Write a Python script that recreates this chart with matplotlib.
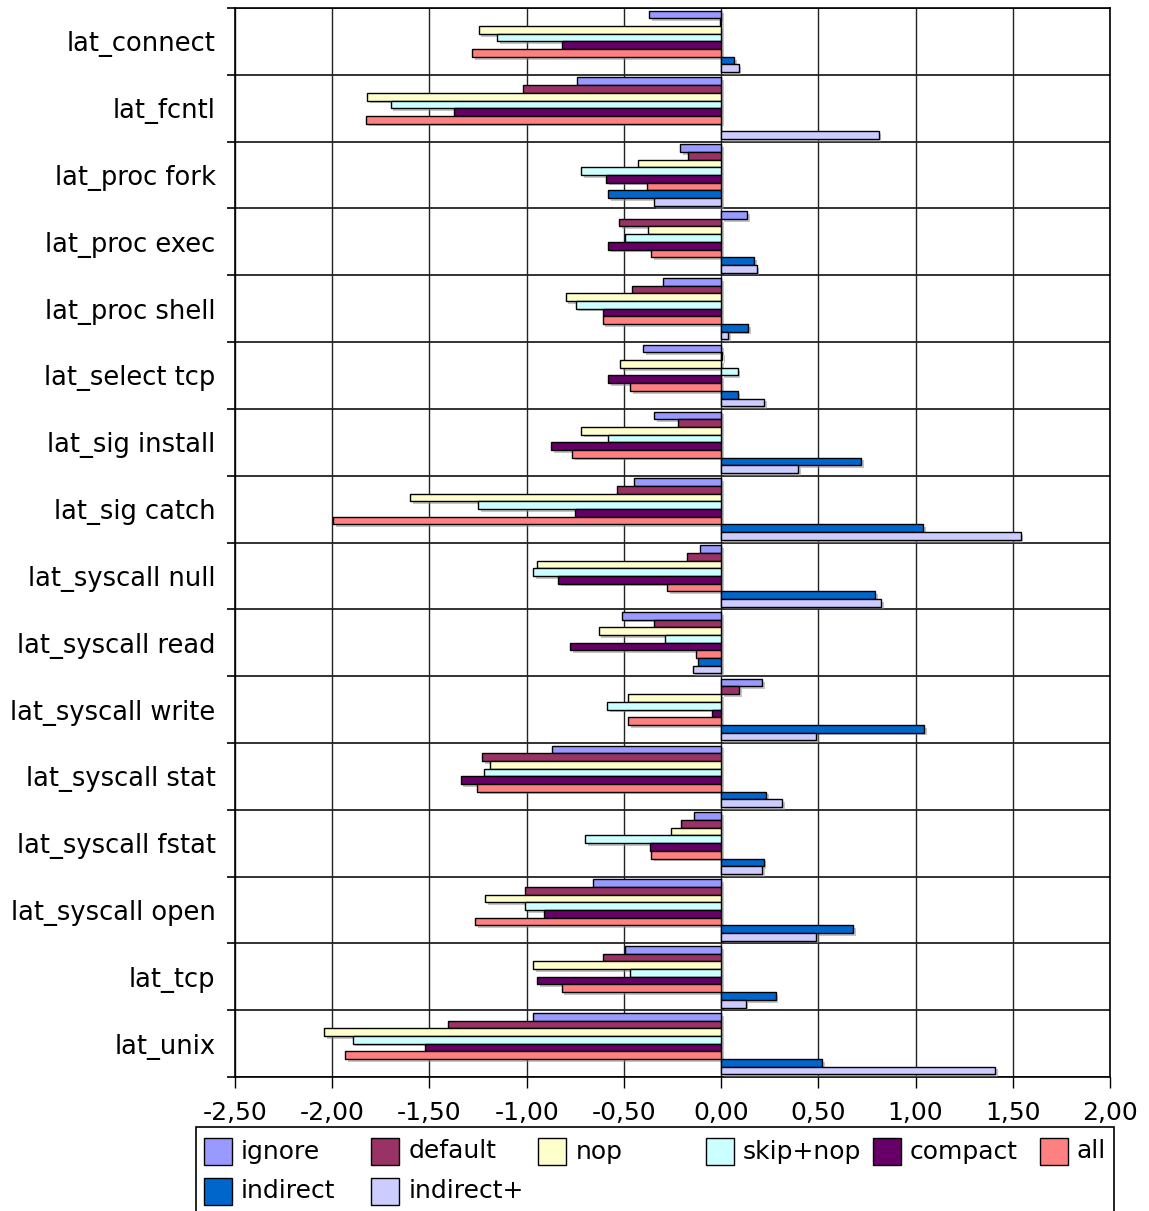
import matplotlib
matplotlib.use("Agg")
import matplotlib.pyplot as plt
import numpy as np
from matplotlib import patheffects as pe
from matplotlib.ticker import FixedLocator, FuncFormatter
from matplotlib.patches import Rectangle

categories = ["lat_connect", "lat_fcntl", "lat_proc fork", "lat_proc exec",
              "lat_proc shell", "lat_select tcp", "lat_sig install", "lat_sig catch",
              "lat_syscall null", "lat_syscall read", "lat_syscall write",
              "lat_syscall stat", "lat_syscall fstat", "lat_syscall open",
              "lat_tcp", "lat_unix"]

series_names = ["ignore", "default", "nop", "skip+nop", "compact", "all",
                "indirect", "indirect+"]

ignore = [-0.37, -0.74, -0.21, 0.135, -0.30, -0.40, -0.345, -0.447,
          -0.11, -0.51, 0.21, -0.87, -0.14, -0.66, -0.495, -0.965]
default = [-0.006, -1.02, -0.17, -0.525, -0.46, 0.006, -0.22, -0.535,
           -0.175, -0.345, 0.094, -1.23, -0.205, -1.01, -0.61, -1.405]
nop = [-1.247, -1.82, -0.43, -0.375, -0.80, -0.52, -0.72, -1.60,
       -0.947, -0.63, -0.477, -1.19, -0.26, -1.215, -0.965, -2.04]
skip_nop = [-1.153, -1.70, -0.72, -0.495, -0.745, 0.085, -0.58, -1.25,
            -0.968, -0.29, -0.585, -1.218, -0.70, -1.01, -0.468, -1.895]
compact = [-0.82, -1.375, -0.59, -0.58, -0.61, -0.58, -0.875, -0.753,
           -0.84, -0.775, -0.047, -1.34, -0.365, -0.91, -0.945, -1.525]
all_ = [-1.28, -1.826, -0.38, -0.36, -0.61, -0.47, -0.765, -1.995,
        -0.276, -0.13, -0.477, -1.253, -0.36, -1.265, -0.82, -1.935]
indirect = [0.065, 0.0, -0.58, 0.17, 0.14, 0.085, 0.72, 1.04,
            0.79, -0.12, 1.045, 0.232, 0.218, 0.68, 0.28, 0.518]
indirect_plus = [0.09, 0.81, -0.347, 0.182, 0.035, 0.22, 0.397, 1.54,
                 0.823, -0.147, 0.49, 0.315, 0.21, 0.49, 0.126, 1.41]

series_values = [ignore, default, nop, skip_nop, compact, all_, indirect, indirect_plus]
colors = ["#9999FF", "#993366", "#FFFFCC", "#CCFFFF", "#660066", "#FF8080",
          "#0066CC", "#CCCCFF"]

x_ticks = [-2.5, -2.0, -1.5, -1.0, -0.5, 0.0, 0.5, 1.0, 1.5, 2.0]

W, H = 1149, 1211
fig = plt.figure(figsize=(W / 100, H / 100), dpi=100)
ax = fig.add_axes([235 / W, 1 - 1077 / H, (1110 - 235) / W, (1077 - 8) / H])

n_cat = len(categories)
n_ser = len(series_values)
bar_h = 0.115
y = np.arange(n_cat)
shadow = [pe.SimplePatchShadow(offset=(2, -2), shadow_rgbFace="#8a8a8a", alpha=0.5),
          pe.Normal()]

for j, (vals, col, name) in enumerate(zip(series_values, colors, series_names)):
    bars = ax.barh(y + (j - (n_ser - 1) / 2) * bar_h, vals, height=bar_h,
                   color=col, edgecolor="black", linewidth=1.0, label=name, zorder=3)
    for b in bars:
        b.set_path_effects(shadow)

ax.set_xlim(-2.5, 2.0)
ax.set_ylim(n_cat - 0.5, -0.5)

ax.xaxis.set_major_locator(FixedLocator(x_ticks))
ax.xaxis.set_major_formatter(FuncFormatter(lambda v, p: f"{v:.2f}".replace(".", ",")))
ax.set_yticks(y)
ax.set_yticklabels(categories)
ax.yaxis.set_minor_locator(FixedLocator(np.arange(-0.5, n_cat, 1.0)))

ax.tick_params(axis="y", which="major", length=0, pad=14, labelsize=18.5)
ax.tick_params(axis="y", which="minor", length=6, width=1.2, direction="out")
ax.tick_params(axis="x", which="major", length=8, width=1, direction="out",
               pad=9, labelsize=18)

ax.grid(axis="x", which="major", color="#222222", linewidth=1.0, zorder=0)
ax.grid(axis="y", which="minor", color="#222222", linewidth=1.3, zorder=0)
ax.set_axisbelow(True)
for s in ax.spines.values():
    s.set_linewidth(1.2)
    s.set_color("black")

# legend drawn as a fixed-width grid, like the original
def fx(px):
    return px / W

def fy(py):
    return 1 - py / H

fig.patches.append(Rectangle((fx(196), fy(1215)), fx(1114) - fx(196), fy(1127) - fy(1215),
                             transform=fig.transFigure, facecolor="white",
                             edgecolor="black", linewidth=1.2))
col_w = 167.2
row_y = [1151.5, 1191]
for k, (name, col) in enumerate(zip(series_names, colors)):
    r, c = divmod(k, 6)
    x0 = 204 + c * col_w
    yc = row_y[r]
    fig.patches.append(Rectangle((fx(x0), fy(yc + 13.5)), fx(28), 27 / H,
                                 transform=fig.transFigure, facecolor=col,
                                 edgecolor="black", linewidth=1.0))
    fig.text(fx(x0 + 37), fy(yc), name, fontsize=18, va="center", ha="left")

fig.savefig("out.png", dpi=100)
